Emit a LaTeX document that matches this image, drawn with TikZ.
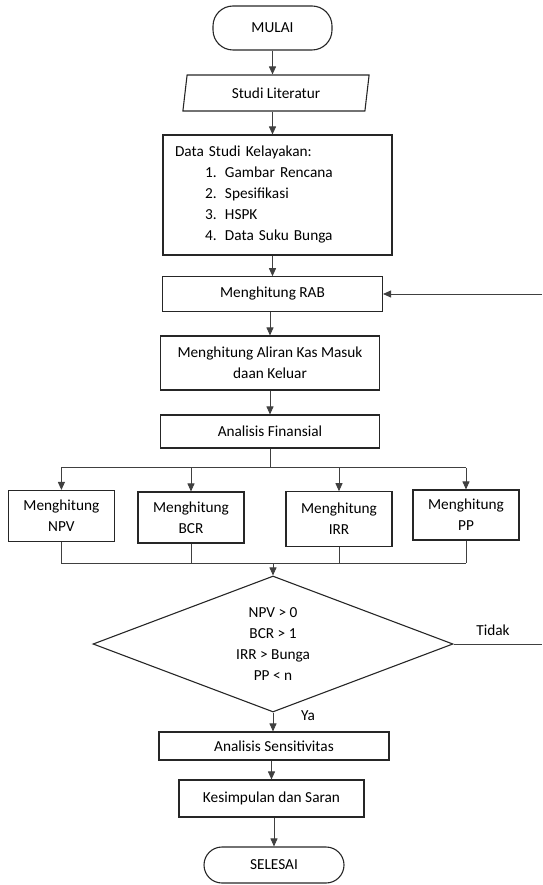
\documentclass[tikz,border=0pt]{standalone}
\usepackage{fontspec}
\setmainfont{Carlito}
\usetikzlibrary{arrows.meta,shapes.geometric}

\begin{document}
\begin{tikzpicture}
[x=1pt,y=-1pt
,font=\fontsize{15.3}{21}\selectfont
,bx/.style={rectangle,draw=black!85,line width=1.1pt,align=center,inner sep=0pt}
,term/.style={bx,rounded corners=20pt,minimum width=119pt,minimum height=44pt}
,io/.style={trapezium,trapezium left angle=79,trapezium right angle=101,trapezium stretches=true,draw=black!85,line width=1.1pt,minimum width=188pt,minimum height=36pt,inner sep=0pt}
,hit/.style={bx,minimum width=106pt,minimum height=51pt}
,dec/.style={diamond,draw=black!85,line width=1.1pt,minimum width=360pt,minimum height=136pt,aspect=2.65,inner sep=0pt,align=center}
,ln/.style={draw=black!75,line width=0.9pt}
,ar/.style={ln,arrows={-Triangle[length=8pt,width=7pt]}}
]
\useasboundingbox (0,0) rectangle (542,885);
\node[term] (start) at (272.5,28) {MULAI};
\node[io] (lit) at (276,93) {Studi Literatur};
\node[bx,minimum width=229pt,minimum height=120pt,text width=205pt,align=left,inner xsep=12pt] (data) at (277.5,195)
{Data Studi Kelayakan:\\
\hspace*{30pt}\makebox[20pt][l]{1.}Gambar Rencana\\
\hspace*{30pt}\makebox[20pt][l]{2.}Spesifikasi\\
\hspace*{30pt}\makebox[20pt][l]{3.}HSPK\\
\hspace*{30pt}\makebox[20pt][l]{4.}Data Suku Bunga};
\node[bx,minimum width=220pt,minimum height=34.5pt] (rab) at (272.5,294) {Menghitung RAB};
\node[bx,minimum width=219pt,minimum height=54pt] (kas) at (270,363) {Menghitung Aliran Kas Masuk\\daan Keluar};
\node[bx,minimum width=219pt,minimum height=33pt] (fin) at (270,431.5) {Analisis Finansial};
\node[hit] (npv) at (61.4,516) {Menghitung\\NPV};
\node[hit] (bcr) at (191,517.5) {Menghitung\\BCR};
\node[hit,minimum height=54.5pt] (irr) at (339,519) {Menghitung\\IRR};
\node[hit,minimum height=50pt] (pp) at (466,515) {Menghitung\\PP};
\node[dec] (cek) at (273,644) {NPV > 0\\BCR > 1\\IRR > Bunga\\PP < n};
\node[bx,minimum width=230pt,minimum height=28pt] (sens) at (274,746) {Analisis Sensitivitas};
\node[bx,minimum width=185pt,minimum height=37pt] (simp) at (271.5,798.5) {Kesimpulan dan Saran};
\node[term,minimum width=140pt,minimum height=36pt,rounded corners=18pt] (end) at (274,865) {SELESAI};
\node (tidak) at (493,630) {Tidak};
\node (ya) at (308,716) {Ya};
\coordinate (split) at (270,467.7);
\coordinate (merge) at (273,563);
\coordinate (tdk) at (542,644);
\coordinate (back) at (542,294);
\draw[ar] (start.south) -- (start.south |- lit.north);
\draw[ar] (start.south |- lit.south) -- (start.south |- data.north);
\draw[ar] (data.south -| rab) -- (rab.north);
\draw[ar] (rab.south -| kas) -- (kas.north);
\draw[ar] (kas.south) -- (fin.north);
\draw[ln] (fin.south) -- (split);
\draw[ln] (split -| npv) -- (split -| pp);
\foreach \n in {npv,bcr,irr,pp}
  \draw[ar] (split -| \n) -- (\n.north);
\foreach \n in {npv,bcr,irr,pp}
  \draw[ln] (\n.south) -- (merge -| \n);
\draw[ln] (merge -| npv) -- (merge -| pp);
\draw[ar] (merge) -- (cek.north);
\draw[ln] (cek.east) -- (tdk);
\draw[ar] (back) -- (rab.east);
\draw[ar] (cek.south) -- (cek.south |- sens.north);
\draw[ar] (sens.south -| simp) -- (simp.north);
\draw[ar] (simp.south -| end) -- (end.north);
\end{tikzpicture}
\end{document}
